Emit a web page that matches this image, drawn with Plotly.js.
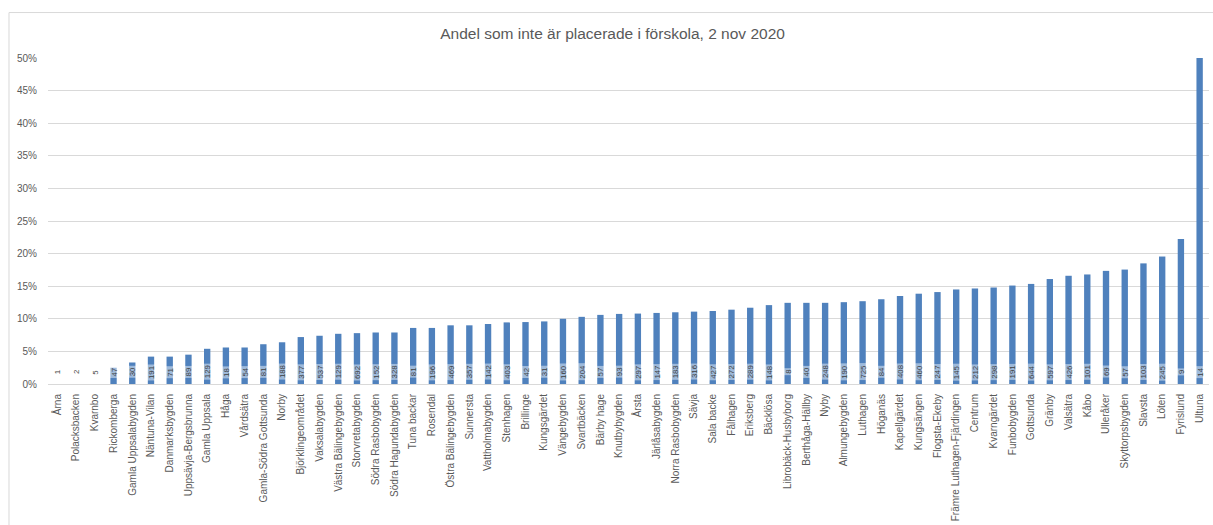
<!DOCTYPE html>
<html>
<head>
<meta charset="utf-8">
<script src="https://cdn.plot.ly/plotly-3.0.1.min.js"></script>
<style>
  html, body { margin: 0; padding: 0; background: #ffffff; }
  #chart { width: 1213px; height: 525px; }
</style>
</head>
<body>
<div id="chart"></div>
<script>
const categories = [
  "Årna", "Polacksbacken", "Kvarnbo", "Rickomberga", "Gamla Uppsalabygden",
  "Näntuna-Vilan", "Danmarksbygden", "Uppsävja-Bergsbrunna", "Gamla Uppsala", "Håga",
  "Vårdsätra", "Gamla-Södra Gottsunda", "Norby", "Björklingeområdet", "Vaksalabygden",
  "Västra Bälingebygden", "Storvretabygden", "Södra Rasbobygden", "Södra Hagundabygden", "Tuna backar",
  "Rosendal", "Östra Bälingebygden", "Sunnersta", "Vattholmabygden", "Stenhagen",
  "Brillinge", "Kungsgärdet", "Vängebygden", "Svartbäcken", "Bärby hage",
  "Knutbybygden", "Årsta", "Järlåsabygden", "Norra Rasbobygden", "Sävja",
  "Sala backe", "Fålhagen", "Eriksberg", "Bäcklösa", "Librobäck-Husbyborg",
  "Berthåga-Hällby", "Nyby", "Almungebygden", "Luthagen", "Höganäs",
  "Kapellgärdet", "Kungsängen", "Flogsta-Ekeby", "Främre Luthagen-Fjärdingen", "Centrum",
  "Kvarngärdet", "Funbobygden", "Gottsunda", "Gränby", "Valsätra",
  "Kåbo", "Ulleråker", "Skyttorpsbygden", "Slavsta", "Löten",
  "Fyrislund", "Ultuna"
];

// Share not placed in preschool (%)
const sharePct = [
  0, 0, 0, 2.5, 3.3,
  4.2, 4.2, 4.5, 5.4, 5.6,
  5.6, 6.1, 6.4, 7.2, 7.4,
  7.7, 7.8, 7.9, 7.9, 8.6,
  8.6, 9.0, 9.0, 9.2, 9.45,
  9.5, 9.6, 10.0, 10.3, 10.6,
  10.75, 10.8, 10.9, 11.0, 11.1,
  11.2, 11.4, 11.7, 12.1, 12.45,
  12.45, 12.45, 12.55, 12.7, 13.0,
  13.5, 13.85, 14.1, 14.5, 14.65,
  14.8, 15.1, 15.35, 16.1, 16.6,
  16.8, 17.35, 17.55, 18.5, 19.55,
  22.25, 50
];

// Number of children (bar labels)
const counts = [
  1, 2, 5, 47, 30,
  191, 71, 89, 129, 18,
  54, 81, 188, 377, 537,
  129, 692, 152, 328, 81,
  196, 469, 357, 142, 403,
  42, 31, 160, 204, 57,
  93, 297, 147, 183, 316,
  427, 272, 289, 148, 8,
  40, 248, 190, 725, 84,
  408, 460, 247, 145, 212,
  298, 191, 644, 597, 426,
  101, 69, 57, 103, 245,
  9, 14
];

const yTickVals = [0, 5, 10, 15, 20, 25, 30, 35, 40, 45, 50];
const yTickText = yTickVals.map(v => v + "%");
const chartTitle = "Andel som inte är placerade i förskola, 2 nov 2020";

const FONT = "Liberation Sans, Arial, sans-serif";
const GREY = "#595959";

const trace = {
  type: "bar",
  x: categories,
  y: sharePct,
  marker: { color: "#4f81bd" },
  hoverinfo: "skip"
};

const annotations = categories.map((c, i) => ({
  x: c,
  y: 0,
  xref: "x",
  yref: "y",
  text: String(counts[i]),
  showarrow: false,
  textangle: -90,
  yanchor: "middle",
  xanchor: "center",
  yshift: 12,
  bgcolor: "rgba(255,255,255,0.45)",
  borderpad: 1,
  font: { family: FONT, size: 7.8, color: "#404040" }
}));

const layout = {
  width: 1213,
  height: 525,
  paper_bgcolor: "#ffffff",
  plot_bgcolor: "#ffffff",
  margin: { l: 48, r: 4, t: 57.5, b: 141, pad: 0 },
  font: { family: FONT, color: GREY },
  title: {
    text: chartTitle,
    font: { family: FONT, size: 15.5, color: GREY },
    x: 0.505,
    xref: "container",
    xanchor: "center",
    y: 0.937,
    yref: "container",
    yanchor: "middle"
  },
  bargap: 0.66,
  showlegend: false,
  xaxis: {
    type: "category",
    tickangle: -90,
    tickfont: { family: FONT, size: 10, color: GREY },
    showgrid: false,
    showline: true,
    linecolor: "#d9d9d9",
    linewidth: 1,
    ticks: "",
    ticklabelstandoff: 5,
    automargin: false,
    fixedrange: true
  },
  yaxis: {
    range: [0, 50],
    tickvals: yTickVals,
    ticktext: yTickText,
    tickfont: { family: FONT, size: 10, color: GREY },
    showgrid: true,
    gridcolor: "#d9d9d9",
    gridwidth: 1,
    zeroline: false,
    showline: false,
    ticks: "",
    ticklabelstandoff: 10,
    automargin: false,
    fixedrange: true
  },
  shapes: [{
    type: "rect",
    xref: "paper",
    yref: "paper",
    x0: -0.0336,
    x1: 1.2,
    y0: -1,
    y1: 1.1394,
    line: { color: "#d9d9d9", width: 1 },
    fillcolor: "rgba(0,0,0,0)",
    layer: "below"
  }],
  annotations: annotations
};

Plotly.newPlot("chart", [trace], layout, { staticPlot: true, displayModeBar: false });
</script>
</body>
</html>
